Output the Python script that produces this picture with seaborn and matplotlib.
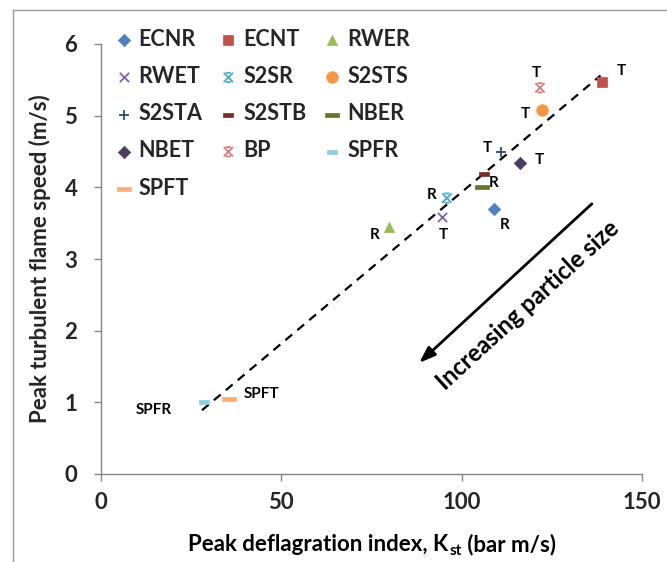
import numpy as np
import pandas as pd
import matplotlib
matplotlib.use("Agg")
import matplotlib.pyplot as plt
from matplotlib.path import Path
from matplotlib.lines import Line2D
import seaborn as sns

# ---------------- data ----------------
series = ["ECNR", "ECNT", "RWER", "RWET", "S2SR", "S2STS", "S2STA",
          "S2STB", "NBER", "NBET", "BP", "SPFR", "SPFT"]
kst = [108.9, 138.9, 79.8, 94.5, 95.9, 122.3, 110.9, 106.2, 105.6, 116.2, 121.7, 28.5, 35.5]
flame_speed = [3.70, 5.47, 3.45, 3.58, 3.85, 5.08, 4.49, 4.19, 4.00, 4.34, 5.39, 1.00, 1.05]
point_labels = ["R", "T", "R", "T", "R", "T", "T", "", "R", "T", "T", "SPFR", "SPFT"]

trend_x = [28.0, 138.5]
trend_y = [0.89, 5.56]

x_ticks = [0, 50, 100, 150]
y_ticks = [0, 1, 2, 3, 4, 5, 6]

# ---------------- styles ----------------
sns.set_theme(style="white")
plt.rcParams["font.family"] = ["Lato", "DejaVu Sans"]

star = Path([(-1, -1), (1, 1), (-1, 1), (1, -1), (-0.55, 1), (0.55, 1), (-0.55, -1), (0.55, -1)],
            [Path.MOVETO, Path.LINETO, Path.MOVETO, Path.LINETO,
             Path.MOVETO, Path.LINETO, Path.MOVETO, Path.LINETO])
short_dash = Path([(-1, -0.4), (1, -0.4), (1, 0.4), (-1, 0.4), (-1, -0.4)],
                  [Path.MOVETO, Path.LINETO, Path.LINETO, Path.LINETO, Path.CLOSEPOLY])
long_dash = Path([(-1, -0.25), (1, -0.25), (1, 0.25), (-1, 0.25), (-1, -0.25)],
                 [Path.MOVETO, Path.LINETO, Path.LINETO, Path.LINETO, Path.CLOSEPOLY])

styles = {
    "ECNR":  dict(marker="D", color="#4F81BD", s=40, kind="filled"),
    "ECNT":  dict(marker="s", color="#C0504D", s=60, kind="filled"),
    "RWER":  dict(marker="^", color="#9BBB59", s=55, kind="filled"),
    "RWET":  dict(marker="x", color="#8064A2", s=45, kind="line"),
    "S2SR":  dict(marker=star, color="#4BACC6", s=45, kind="star"),
    "S2STS": dict(marker="o", color="#F79646", s=70, kind="filled"),
    "S2STA": dict(marker="+", color="#2C4D75", s=55, kind="line"),
    "S2STB": dict(marker=short_dash, color="#772C2A", s=50, kind="filled"),
    "NBER":  dict(marker=long_dash, color="#5F7530", s=90, kind="filled"),
    "NBET":  dict(marker="D", color="#4D3B62", s=40, kind="filled"),
    "BP":    dict(marker=star, color="#DA7C7A", s=45, kind="star"),
    "SPFR":  dict(marker=short_dash, color="#8FCADD", s=50, kind="filled"),
    "SPFT":  dict(marker=long_dash, color="#F9AE7C", s=90, kind="filled"),
}

# label offsets in pixels (dx, dy), alignment
label_offsets = {
    "ECNR": (11, -16, "center"), "ECNT": (19, 11, "center"), "RWER": (-14, -8, "center"),
    "RWET": (2, -18, "center"), "S2SR": (-15, 3, "center"), "S2STS": (-17, -4, "center"),
    "S2STA": (-14, 4, "center"), "NBER": (12, 4, "center"), "NBET": (19, 3, "center"),
    "BP": (-4, 15, "center"), "SPFR": (-32, -8, "right"), "SPFT": (15, 5, "left"),
}

W, H = 667, 562
fig = plt.figure(figsize=(W / 100, H / 100), dpi=100)
ax = fig.add_axes([101 / W, 1 - 474 / H, (642 - 101) / W, (474 - 44) / H])

df = pd.DataFrame({"series": series, "kst": kst, "speed": flame_speed})

# trendline
sns.lineplot(x=trend_x, y=trend_y, ax=ax, color="black", lw=1.6,
             linestyle=(0, (4, 3)), legend=False, zorder=2)

for name in series:
    st = styles[name]
    sub = df[df["series"] == name]
    kws = dict(x=sub["kst"].to_list(), y=sub["speed"].to_list(), ax=ax, marker=st["marker"],
               s=st["s"], color=st["color"], label=name, zorder=3)
    if st["kind"] == "filled":
        kws.update(edgecolor=st["color"], linewidth=0.5)
    elif st["kind"] == "star":
        kws.update(edgecolor=st["color"], facecolor="none", linewidth=1.3)
    else:
        kws.update(linewidth=1.3)
    sns.scatterplot(**kws)

for name, xv, yv, lab in zip(series, kst, flame_speed, point_labels):
    if not lab:
        continue
    dx, dy, ha = label_offsets[name]
    ax.annotate(lab, xy=(xv, yv), xytext=(dx, dy), textcoords="offset pixels",
                ha=ha, va="center", fontsize=11, fontweight="bold", color="black")

# arrow and annotation
ax.annotate("", xy=(88.2, 1.55), xytext=(136.1, 3.77),
            arrowprops=dict(arrowstyle="-|>,head_length=0.7,head_width=0.25", lw=2,
                            color="black", mutation_scale=14, shrinkA=0, shrinkB=0))
ax.text(118.4, 2.36, "Increasing particle size", rotation=42.5, rotation_mode="anchor",
        ha="center", va="center", fontsize=17, fontweight="bold", color="black")

ax.set_xlim(0, 150)
ax.set_ylim(0, 6)
ax.set_xticks(x_ticks)
ax.set_yticks(y_ticks)
ax.set_xticklabels([str(v) for v in x_ticks], fontsize=16, fontweight="bold")
ax.set_yticklabels([str(v) for v in y_ticks], fontsize=16, fontweight="bold")
ax.tick_params(axis="both", direction="out", length=5, width=1, color="#868686",
               bottom=True, left=True)
ax.tick_params(axis="x", pad=8)
ax.tick_params(axis="y", pad=12)
for side in ["top", "right"]:
    ax.spines[side].set_visible(False)
for side in ["left", "bottom"]:
    ax.spines[side].set_color("#868686")
    ax.spines[side].set_linewidth(1)

ax.set_xlabel("")
ax.set_ylabel("Peak turbulent flame speed (m/s)", fontsize=16, fontweight="bold", labelpad=10)

# x label with bold subscript built from chained text pieces
lab_kw = dict(fontsize=16, fontweight="bold", color="black")
t1 = fig.text(0.2, 1 - 551 / H, "Peak deflagration index, K", ha="left", va="baseline", **lab_kw)
t2 = ax.annotate("st", xy=(1, 0), xycoords=t1, xytext=(0.5, -2.5), textcoords="offset points",
                 ha="left", va="bottom", fontsize=11, fontweight="bold", color="black",
                 annotation_clip=False)
t3 = ax.annotate(" (bar m/s)", xy=(1, 0), xycoords=(t2, t1), xytext=(0, 0),
                 textcoords="offset points", ha="left", va="bottom",
                 annotation_clip=False, **lab_kw)

# legend filled row-wise (3 columns) like the reference
handles, labels = ax.get_legend_handles_labels()
ncol = 3
order = [i for c in range(ncol) for i in range(c, len(labels), ncol)]
leg = ax.legend([handles[i] for i in order], [labels[i] for i in order],
                loc="upper left", bbox_to_anchor=(-0.01, 1.07), ncol=ncol, frameon=False,
                prop=dict(family="Lato", weight="bold", size=15.5), handletextpad=0.1,
                columnspacing=0.6, labelspacing=0.75, handlelength=1.2, borderaxespad=0.3)

# outer frame (partial, as in reference)
fig.add_artist(Line2D([13 / W, 1], [1 - 10 / H, 1 - 10 / H], transform=fig.transFigure,
                      color="#999999", lw=1))
fig.add_artist(Line2D([13 / W, 13 / W], [0, 1 - 10 / H], transform=fig.transFigure,
                      color="#999999", lw=1))

# center the composite x label under the axes
fig.canvas.draw()
r = fig.canvas.get_renderer()
b1 = t1.get_window_extent(r)
b3 = t3.get_window_extent(r)
total = b3.x1 - b1.x0
center_px = 372
t1.set_x((center_px - total / 2) / W)

fig.savefig("out.png", dpi=100, facecolor="white")
